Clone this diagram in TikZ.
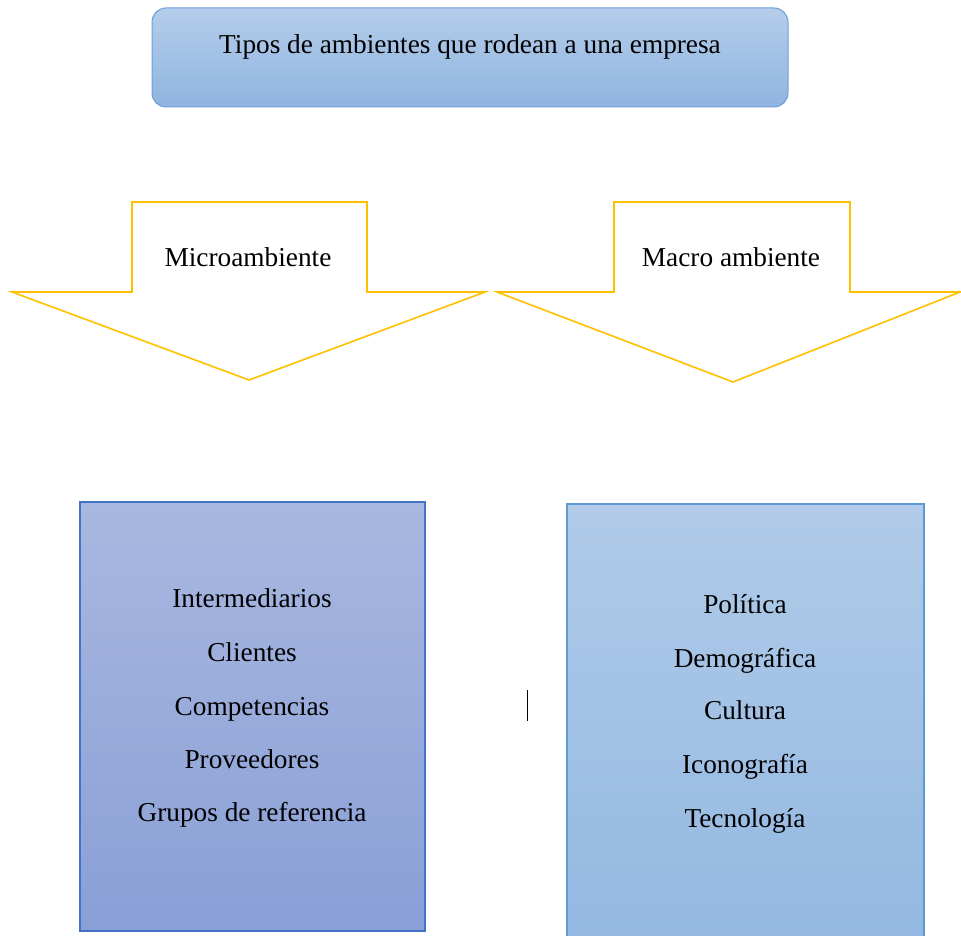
\documentclass[tikz,border=0pt]{standalone}
\usepackage{fontspec}
\setmainfont{Liberation Serif}
\definecolor{titletop}{HTML}{B4CDEA}
\definecolor{titlebot}{HTML}{8FB4E0}
\definecolor{titleline}{HTML}{6C9FD8}
\definecolor{lefttop}{HTML}{A9B8E0}
\definecolor{leftbot}{HTML}{899FD6}
\definecolor{leftline}{HTML}{4472C4}
\definecolor{righttop}{HTML}{B1CBE8}
\definecolor{rightbot}{HTML}{93B8E1}
\definecolor{rightline}{HTML}{5B9BD5}
\definecolor{arrowline}{HTML}{FFC000}
\tikzset{
  x=1pt, y=-1pt,
  txt/.style={font=\fontsize{27.3}{31}\selectfont, inner sep=0pt, anchor=base},
  bigarrow/.style={draw=arrowline, line width=1.6pt, line join=miter, fill=white},
}
\begin{document}
\begin{tikzpicture}
\useasboundingbox (0,0) rectangle (961,936);
% title
\shade[top color=titletop, bottom color=titlebot, draw=titleline, line width=1pt, rounded corners=14pt]
  (152,8) rectangle (788,107);
\node[txt] (title) at (470,54) {Tipos de ambientes que rodean a una empresa};
% arrows
\draw[bigarrow] (132,202) -- (367,202) -- (367,292) -- (485,292) -- (249,380) -- (12,292) -- (132,292) -- cycle;
\node[txt] (micro) at (248,266) {Microambiente};
\draw[bigarrow] (614,202) -- (850,202) -- (850,292) -- (960,292) -- (733,382) -- (497,292) -- (614,292) -- cycle;
\node[txt] (macro) at (731,266) {Macro ambiente};
% boxes
\shade[top color=lefttop, bottom color=leftbot, draw=leftline, line width=1.2pt]
  (80,502) rectangle (425,931);
\shade[top color=righttop, bottom color=rightbot, draw=rightline, line width=1.2pt]
  (567,504) rectangle (924,940);
\node[txt] (l1) at (252,607) {Intermediarios};
\node[txt] (l2) at (252,661) {Clientes};
\node[txt] (l3) at (252,715) {Competencias};
\node[txt] (l4) at (252,768) {Proveedores};
\node[txt] (l5) at (252,821) {Grupos de referencia};
\node[txt] (r1) at (745,613) {Política};
\node[txt] (r2) at (745,667) {Demográfica};
\node[txt] (r3) at (745,719) {Cultura};
\node[txt] (r4) at (745,773) {Iconografía};
\node[txt] (r5) at (745,827) {Tecnología};
% cursor mark
\coordinate (c1) at (527,690);
\coordinate (c2) at (527,721);
\draw[line width=1pt, black] (c1) -- (c2);
\end{tikzpicture}
\end{document}
